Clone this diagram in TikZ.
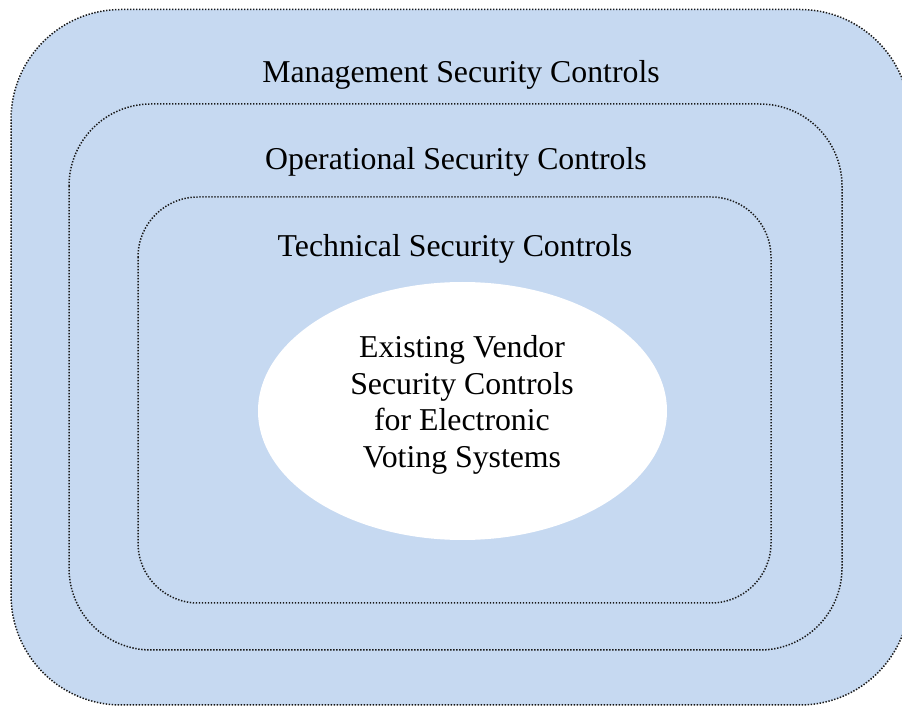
\documentclass[tikz,border=0pt]{standalone}
\usepackage{fontspec}
\setmainfont{Liberation Serif}
\usetikzlibrary{shapes.geometric}
\definecolor{layerblue}{RGB}{198,217,241}
\begin{document}
\begin{tikzpicture}[x=0.5pt,y=-0.5pt,
  layer/.style={fill=layerblue,draw=black!90,line width=0.75pt,dash pattern=on 0.7pt off 0.8pt},
  label/.style={font=\fontsize{15.9}{18.3}\selectfont,inner sep=0pt,anchor=center}]
\useasboundingbox (0,0) rectangle (902,706);
\clip (0,0) rectangle (902,706);
\draw[layer,rounded corners=55pt] (11,9.5) rectangle (910,705);
\draw[layer,rounded corners=41pt] (69,104) rectangle (842,650);
\draw[layer,rounded corners=30pt] (138,197) rectangle (771,603);
\node[ellipse,fill=white,minimum width=204.5pt,minimum height=129pt,inner sep=0pt] (core) at (462.5,411) {};
\node[label] (mgmt) at (461,75) {Management Security Controls};
\node[label] (oper) at (456,162) {Operational Security Controls};
\node[label] (tech) at (455,249) {Technical Security Controls};
\node[label,align=center] (vendor) at (462,405) {Existing Vendor\\Security Controls\\for Electronic\\Voting Systems};
\end{tikzpicture}
\end{document}
